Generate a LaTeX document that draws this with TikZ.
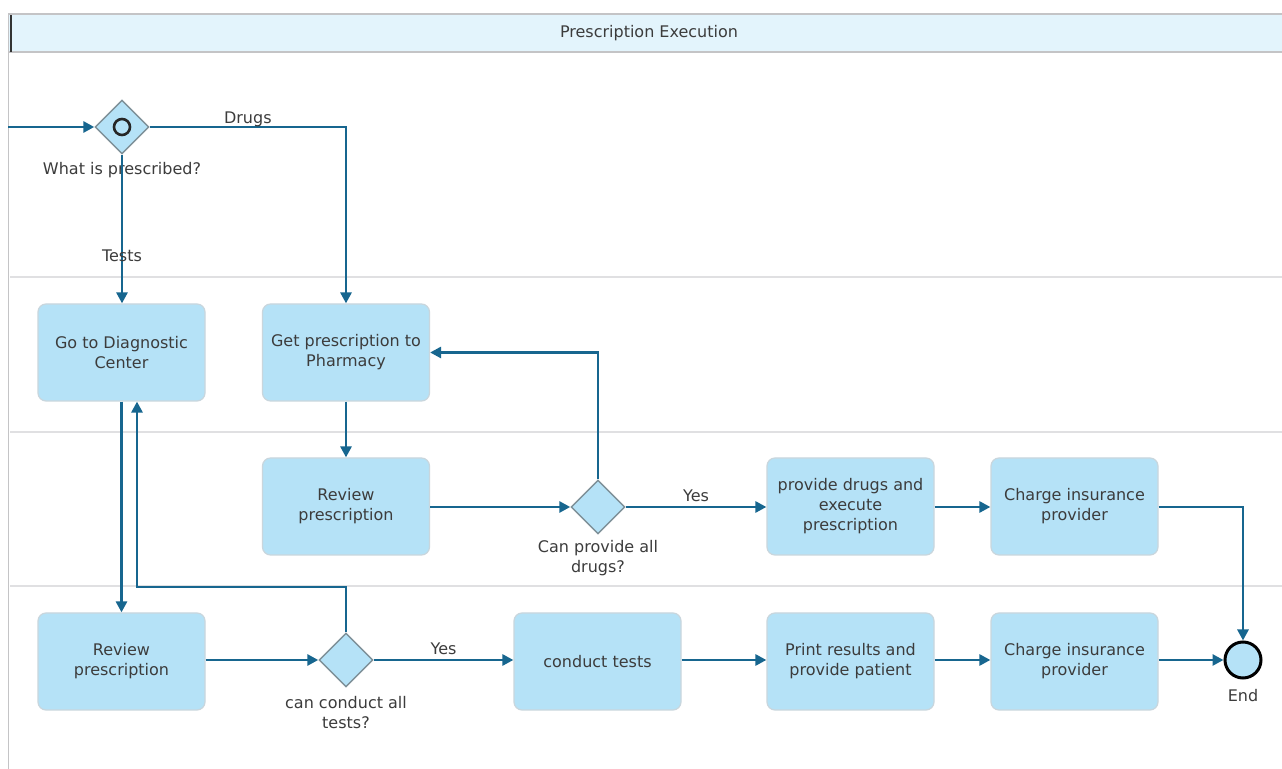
\documentclass[tikz,border=0pt]{standalone}
\usepackage{fontspec}
\setmainfont{DejaVu Sans}
\usetikzlibrary{shapes.geometric,arrows.meta}
\definecolor{flowc}{HTML}{17668F}
\definecolor{taskfill}{HTML}{B5E2F7}
\definecolor{taskedge}{HTML}{C9D6DD}
\definecolor{gwedge}{HTML}{7E9098}
\definecolor{txt}{HTML}{3C3C3C}
\definecolor{headfill}{HTML}{E3F4FC}
\definecolor{laneline}{HTML}{E0E0E2}
\definecolor{poolline}{HTML}{C4C4C6}
\begin{document}
\begin{tikzpicture}[x=0.5pt,y=-0.5pt,
  every node/.style={text=txt,font=\fontsize{8}{10}\selectfont},
  task/.style={draw=taskedge,line width=0.6pt,fill=taskfill,rounded corners=4pt,
    minimum width=83.5pt,minimum height=48.5pt,align=center,inner sep=0pt},
  gateway/.style={diamond,draw=gwedge,line width=0.7pt,fill=taskfill,
    minimum width=27pt,minimum height=27pt,inner sep=0pt},
  gwlabel/.style={align=center,inner sep=0pt},
  flowlabel/.style={inner sep=0pt},
  flow/.style={draw=flowc,line width=1.4pt,-{Triangle[length=5.5pt,width=5.5pt]}},
  lane/.style={draw=laneline,line width=1pt}]
\useasboundingbox (0,0) rectangle (1282,769);
\fill[white] (0,0) rectangle (1282,769);

% pool frame, header and lane separators
\fill[headfill] (9,14) rectangle (1282,52);
\draw[poolline,line width=0.9pt] (8,14) -- (1282,14);
\draw[poolline,line width=0.9pt] (8,52) -- (1282,52);
\draw[poolline,line width=0.9pt] (8.5,14) -- (8.5,769);
\fill[black!80] (9.5,15) rectangle (12,52);
\node (title) at (649,33) {Prescription Execution};
\draw[lane] (10,277) -- (1282,277);
\draw[lane] (10,432) -- (1282,432);
\draw[lane] (10,586) -- (1282,586);

% gateways
\node[gateway] (g1) at (122,127) {};
\draw[black!85,line width=1.3pt] (g1.center) circle (8);
\node[gwlabel] (g1l) at (122,170) {What is prescribed?};
\node[gateway] (g2) at (598,507) {};
\node[gwlabel] (g2l) at (598,558) {Can provide all\\drugs?};
\node[gateway] (g3) at (346,660) {};
\node[gwlabel] (g3l) at (346,713) {can conduct all\\tests?};

% tasks
\node[task] (diag) at (121.5,352.5) {Go to Diagnostic\\Center};
\node[task] (getrx) at (346,352.5) {Get prescription to\\Pharmacy};
\node[task] (rev1) at (346,506.5) {Review\\prescription};
\node[task] (drugs) at (850.5,506.5) {provide drugs and\\execute\\prescription};
\node[task] (charge1) at (1074.5,506.5) {Charge insurance\\provider};
\node[task] (rev2) at (121.5,661.5) {Review\\prescription};
\node[task] (tests) at (597.5,661.5) {conduct tests};
\node[task] (print) at (850.5,661.5) {Print results and\\provide patient};
\node[task] (charge2) at (1074.5,661.5) {Charge insurance\\provider};

% end event
\node[circle,draw=black,line width=1.5pt,fill=taskfill,minimum size=18pt,inner sep=0pt] (end) at (1243,660) {};
\node (endl) at (1243,696) {End};

% sequence flows
\coordinate (start) at (8,127);
\draw[flow] (start) -- (g1.west);
\draw[flow] (g1.east) -| (getrx.north) node[flowlabel,pos=0.25,above=-0.5pt] {Drugs};
\draw[flow] (g1.south) -- (g1.south |- diag.north) node[pos=0.68] {Tests};
\draw[flow] (diag.south) -- (diag.south |- rev2.north);
\coordinate (back3) at (137,587);
\draw[flow] (g3.north) |- (back3) -- (back3 |- diag.south);
\draw[flow] (getrx.south) -- (rev1.north);
\draw[flow] (rev1.east |- g2.west) -- (g2.west);
\draw[flow] (g2.north) |- (getrx.east);
\draw[flow] (g2.east) -- (drugs.west |- g2.east) node[flowlabel,midway,above=2pt] {Yes};
\draw[flow] (drugs.east |- g2.east) -- (charge1.west |- g2.east);
\draw[flow] (charge1.east |- g2.east) -| (end.north);
\draw[flow] (rev2.east |- g3.west) -- (g3.west);
\draw[flow] (g3.east) -- (tests.west |- g3.east) node[flowlabel,midway,above=2pt] {Yes};
\draw[flow] (tests.east |- g3.east) -- (print.west |- g3.east);
\draw[flow] (print.east |- g3.east) -- (charge2.west |- g3.east);
\draw[flow] (charge2.east |- end.west) -- (end.west);
\end{tikzpicture}
\end{document}
